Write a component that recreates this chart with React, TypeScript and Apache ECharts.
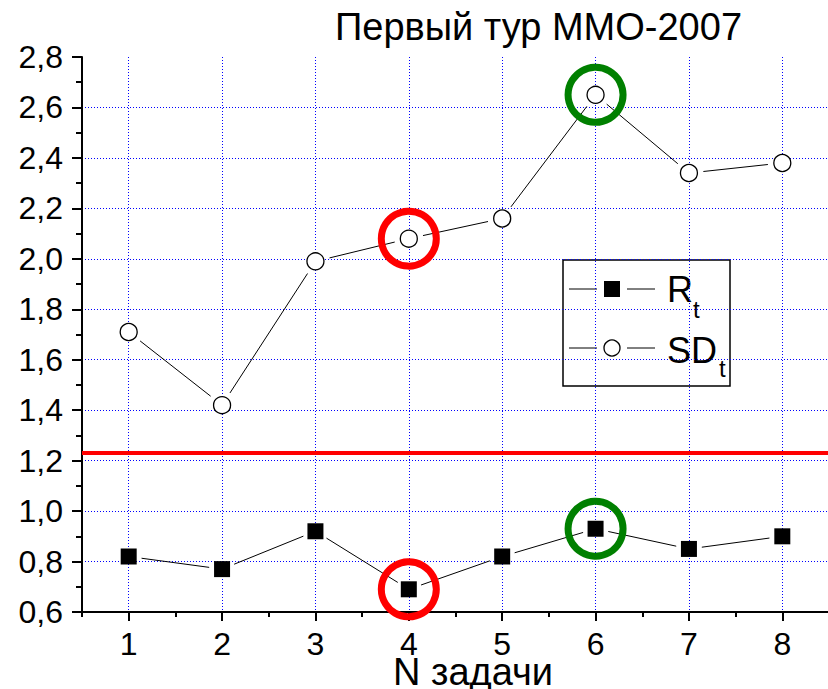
import React, { useEffect, useRef } from "react";
import * as echarts from "echarts";

const tasks = ["1", "2", "3", "4", "5", "6", "7", "8"];
const Rt = [0.82, 0.77, 0.92, 0.69, 0.82, 0.93, 0.85, 0.9];
const SDt = [1.71, 1.42, 1.99, 2.08, 2.16, 2.65, 2.34, 2.38];
const threshold = 1.23;
const redTaskIndex = 3;
const greenTaskIndex = 5;
const yMin = 0.6;
const yMax = 2.8;
const yStep = 0.2;

const FONT = "'Liberation Sans', Arial, sans-serif";

function gapLine(vals: number[], gap: number) {
  return (params: any, api: any) => {
    const i = params.dataIndex;
    if (i >= vals.length - 1) return null;
    const a = api.coord([i, vals[i]]);
    const b = api.coord([i + 1, vals[i + 1]]);
    const dx = b[0] - a[0];
    const dy = b[1] - a[1];
    const L = Math.hypot(dx, dy) || 1;
    const ux = dx / L;
    const uy = dy / L;
    return {
      type: "line",
      shape: {
        x1: a[0] + ux * gap,
        y1: a[1] + uy * gap,
        x2: b[0] - ux * gap,
        y2: b[1] - uy * gap,
      },
      style: { stroke: "#000", lineWidth: 1 },
    };
  };
}

export default function App() {
  const ref = useRef<HTMLDivElement>(null);
  useEffect(() => {
    document.body.style.margin = "0";
    const chart = echarts.init(ref.current!, null, { renderer: "svg" });
    const grid = "#0000ff";
    const option: any = {
      animation: false,
      backgroundColor: "#fff",
      textStyle: { fontFamily: FONT },
      title: {
        text: "Первый тур ММО-2007",
        left: 335,
        top: 8,
        padding: 0,
        textStyle: { fontSize: 38, fontWeight: "normal", color: "#000", fontFamily: FONT },
      },
      grid: { left: 82, right: -1, top: 57, bottom: 77, containLabel: false, outerBoundsMode: "none" },
      xAxis: [
        {
          type: "category",
          data: tasks,
          boundaryGap: true,
          position: "bottom",
          name: "N задачи",
          nameLocation: "middle",
          nameGap: 45,
          nameMoveOverlap: false,
          nameTextStyle: { fontSize: 38, lineHeight: 30, color: "#000", fontFamily: FONT, padding: [0, 0, 0, 35] },
          axisLine: { show: true, lineStyle: { color: "#000", width: 2 } },
          axisTick: { show: true, alignWithLabel: true, length: 9, lineStyle: { color: "#000", width: 2 } },
          axisLabel: { fontSize: 32, lineHeight: 26, color: "#000", margin: 19, fontFamily: FONT },
          splitLine: { show: true, alignWithLabel: true, lineStyle: { color: grid, width: 1, type: [1, 2] } },
        },
        {
          type: "category",
          data: tasks,
          boundaryGap: true,
          position: "bottom",
          axisLine: { show: false },
          axisTick: { show: true, length: 5, lineStyle: { color: "#000", width: 2 } },
          axisLabel: { show: false },
          splitLine: { show: false },
        },
      ],
      yAxis: {
        type: "value",
        min: yMin,
        max: yMax,
        interval: yStep,
        axisLine: { show: true, lineStyle: { color: "#000", width: 2 } },
        axisTick: { show: true, length: 10, lineStyle: { color: "#000", width: 2 } },
        minorTick: { show: true, splitNumber: 2, length: 6, lineStyle: { color: "#000", width: 2 } },
        axisLabel: {
          fontSize: 32,
          color: "#000",
          margin: 19,
          fontFamily: FONT,
          formatter: (v: number) => v.toFixed(1).replace(".", ","),
        },
        splitLine: { show: true, showMaxLine: false, lineStyle: { color: grid, width: 1, type: [1, 2] } },
      },
      series: [
        {
          type: "custom",
          name: "R_t line",
          renderItem: gapLine(Rt, 13),
          data: Rt.map((v, i) => [i, v]),
          encode: { x: 0, y: 1 },
          z: 3,
          markLine: {
            silent: true,
            symbol: ["none", "none"],
            label: { show: false },
            lineStyle: { color: "#ff0000", width: 4, type: "solid" },
            data: [{ yAxis: threshold }],
          },
        },
        {
          type: "custom",
          name: "SD_t line",
          renderItem: gapLine(SDt, 14.5),
          data: SDt.map((v, i) => [i, v]),
          encode: { x: 0, y: 1 },
          z: 3,
        },
        {
          type: "scatter",
          name: "R_t",
          data: Rt.map((v, i) => [i, v]),
          symbol: "rect",
          symbolSize: 16,
          itemStyle: { color: "#000", opacity: 1 },
          z: 4,
        },
        {
          type: "scatter",
          name: "SD_t",
          data: SDt.map((v, i) => [i, v]),
          symbol: "circle",
          symbolSize: 17,
          itemStyle: { color: "#fff", borderColor: "#000", borderWidth: 1.3, opacity: 1 },
          z: 4,
        },
        {
          type: "scatter",
          name: "red marks",
          data: [
            [redTaskIndex, SDt[redTaskIndex]],
            [redTaskIndex, Rt[redTaskIndex]],
          ],
          symbol: "circle",
          symbolSize: 55,
          itemStyle: { color: "rgba(0,0,0,0)", borderColor: "#ff0000", borderWidth: 7, opacity: 1 },
          z: 5,
        },
        {
          type: "scatter",
          name: "green marks",
          data: [
            [greenTaskIndex, SDt[greenTaskIndex]],
            [greenTaskIndex, Rt[greenTaskIndex]],
          ],
          symbol: "circle",
          symbolSize: 55,
          itemStyle: { color: "rgba(0,0,0,0)", borderColor: "#008000", borderWidth: 7, opacity: 1 },
          z: 5,
        },
      ],
      graphic: [
        {
          type: "group",
          z: 100,
          children: [
            {
              type: "rect",
              shape: { x: 563, y: 260, width: 167, height: 126 },
              style: { fill: "#fff", stroke: "#000", lineWidth: 1.5 },
            },
            { type: "line", shape: { x1: 569, y1: 289, x2: 597, y2: 289 }, style: { stroke: "#000", lineWidth: 1 } },
            { type: "line", shape: { x1: 627, y1: 289, x2: 655, y2: 289 }, style: { stroke: "#000", lineWidth: 1 } },
            { type: "rect", shape: { x: 604, y: 281, width: 16, height: 16 }, style: { fill: "#000" } },
            { type: "line", shape: { x1: 569, y1: 348, x2: 597, y2: 348 }, style: { stroke: "#000", lineWidth: 1 } },
            { type: "line", shape: { x1: 627, y1: 348, x2: 655, y2: 348 }, style: { stroke: "#000", lineWidth: 1 } },
            { type: "circle", shape: { cx: 612, cy: 348, r: 8 }, style: { fill: "#fff", stroke: "#000", lineWidth: 1.3 } },
            {
              type: "text",
              x: 667,
              y: 289,
              style: { text: "R", font: `36px ${FONT}`, fill: "#000", verticalAlign: "middle", align: "left" },
            },
            {
              type: "text",
              x: 693,
              y: 309,
              style: { text: "t", font: `24px ${FONT}`, fill: "#000", verticalAlign: "middle", align: "left" },
            },
            {
              type: "text",
              x: 667,
              y: 350,
              style: { text: "SD", font: `36px ${FONT}`, fill: "#000", verticalAlign: "middle", align: "left" },
            },
            {
              type: "text",
              x: 719,
              y: 368,
              style: { text: "t", font: `24px ${FONT}`, fill: "#000", verticalAlign: "middle", align: "left" },
            },
          ],
        },
      ],
    };
    chart.setOption(option);
    return () => chart.dispose();
  }, []);
  return <div ref={ref} style={{ position: "fixed", left: 0, top: 0, width: 828, height: 689 }} />;
}
